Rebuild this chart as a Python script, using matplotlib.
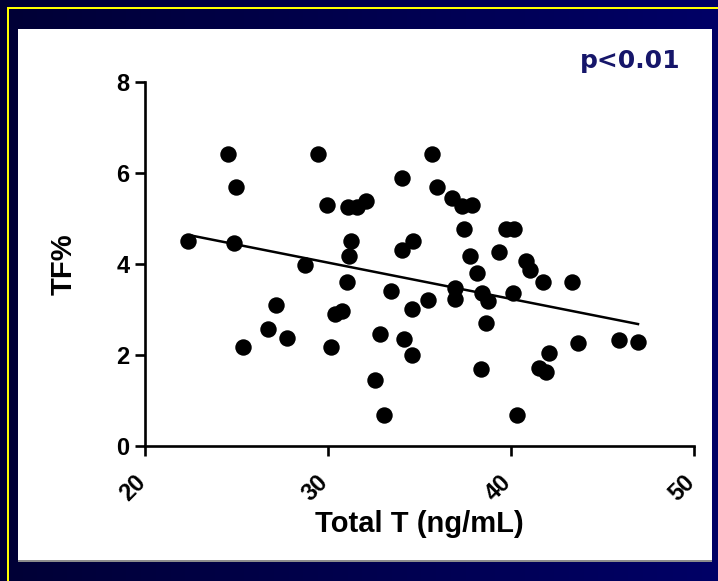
import numpy as np
import matplotlib
matplotlib.use("Agg")
import matplotlib.pyplot as plt
from matplotlib.patches import Rectangle
from matplotlib.transforms import ScaledTranslation

# values
total_t = [24.54, 29.45, 24.97, 34.04, 29.95, 31.09, 31.58, 32.08, 22.35, 24.86,
           31.26, 31.15, 34.04, 34.64, 28.74, 31.04, 33.44, 27.16, 30.38, 30.77,
           34.59, 26.72, 27.76, 25.36, 30.16, 32.84, 34.15, 34.59, 32.57, 33.06,
           35.68, 35.96, 36.78, 37.32, 37.87, 37.43, 39.73, 40.16, 37.76, 39.34,
           38.14, 40.82, 41.04, 41.75, 43.33, 36.94, 36.94, 38.42, 38.74, 40.11,
           35.46, 38.63, 43.66, 45.90, 46.94, 38.36, 42.08, 41.53, 41.92, 40.33]
tf_pct = [6.42, 6.42, 5.69, 5.89, 5.30, 5.25, 5.25, 5.38, 4.51, 4.46,
          4.51, 4.18, 4.31, 4.51, 3.98, 3.60, 3.41, 3.10, 2.90, 2.97,
          3.01, 2.57, 2.37, 2.18, 2.18, 2.46, 2.35, 2.00, 1.45, 0.68,
          6.42, 5.69, 5.45, 5.28, 5.30, 4.77, 4.77, 4.77, 4.18, 4.26,
          3.80, 4.07, 3.87, 3.60, 3.60, 3.47, 3.23, 3.36, 3.18, 3.36,
          3.21, 2.70, 2.26, 2.33, 2.29, 1.69, 2.04, 1.71, 1.63, 0.68]

# regression line ends (as drawn on the slide)
fit_x = [22.6, 46.94]
fit_y = [4.62, 2.68]

x_ticks = [20, 30, 40, 50]
y_ticks = [0, 2, 4, 6, 8]
p_text = "p<0.01"

W, H = 718, 581
fig = plt.figure(figsize=(W / 100, H / 100), dpi=100)

# slide background: navy gradient, yellow frame, white panel
bg = fig.add_axes([0, 0, 1, 1])
grad = np.linspace(0, 1, 256)
navy = np.zeros((1, 256, 3))
navy[0, :, 2] = 0.21 + 0.19 * grad
bg.imshow(navy, extent=[0, W, H, 0], aspect="auto")
bg.add_patch(Rectangle((6.5, 6.5), W, 2.5, color="#ffff00", lw=0))
bg.add_patch(Rectangle((6.5, 6.5), 2.5, H, color="#ffff00", lw=0))
bg.add_patch(Rectangle((18, 29), 694, 533, color="white", lw=0))
bg.add_patch(Rectangle((18, 560), 694, 2, color="#8c8c8c", lw=0))
bg.set_xlim(0, W)
bg.set_ylim(H, 0)
bg.axis("off")

ax = fig.add_axes([145 / W, 1 - 446 / H, 549 / W, 364 / H])
ax.set_facecolor("none")
ax.scatter(total_t, tf_pct, s=140, color="black", zorder=3, linewidths=0)
ax.plot(fit_x, fit_y, color="black", lw=1.8, zorder=2)

ax.set_xlim(20, 50)
ax.set_ylim(0, 8)
ax.set_xticks(x_ticks)
ax.set_yticks(y_ticks)
for s in ["top", "right"]:
    ax.spines[s].set_visible(False)
for s in ["left", "bottom"]:
    ax.spines[s].set_linewidth(1.9)
ax.tick_params(width=1.9, length=7, labelsize=17)
ax.tick_params(axis="x", pad=11)
ax.tick_params(axis="y", pad=4)
ax.set_xticklabels([str(v) for v in x_ticks], rotation=45, ha="right", va="top",
                   family="Liberation Sans", fontweight="bold")
ax.set_yticklabels([str(v) for v in y_ticks], family="Liberation Sans",
                   fontweight="bold")
shift = ScaledTranslation(5 / 100, 0, fig.dpi_scale_trans)
for lbl in ax.get_xticklabels():
    lbl.set_transform(lbl.get_transform() + shift)

ax.set_xlabel("Total T (ng/mL)", fontsize=21, family="Liberation Sans",
              fontweight="bold", labelpad=3)
ax.set_ylabel("TF%", fontsize=21, family="Liberation Sans",
              fontweight="bold", labelpad=28)

fig.text(681 / W, 1 - 68 / H, p_text, ha="right", va="baseline", fontsize=18,
         fontweight="bold", color="#16166a", family="DejaVu Sans")

fig.savefig("out.png", dpi=100)
